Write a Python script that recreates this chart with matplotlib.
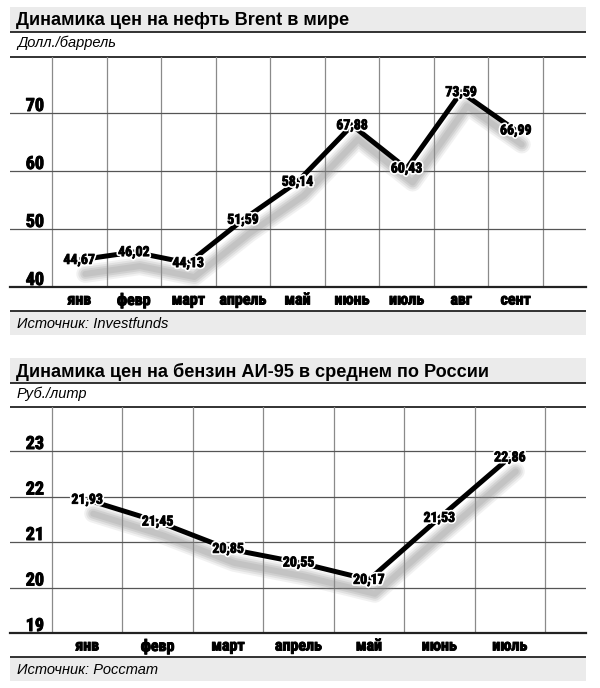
import matplotlib
matplotlib.use("Agg")
import matplotlib.pyplot as plt
import matplotlib.patheffects as pe
from matplotlib.transforms import offset_copy, blended_transform_factory

# Brent
brent_months = ["янв", "февр", "март", "апрель", "май", "июнь", "июль", "авг", "сент"]
brent_values = [44.67, 46.02, 44.13, 51.59, 58.14, 67.88, 60.43, 73.59, 66.99]
brent_ticks = [40, 50, 60, 70]

# АИ-95
fuel_months = ["янв", "февр", "март", "апрель", "май", "июнь", "июль"]
fuel_values = [21.93, 21.45, 20.85, 20.55, 20.17, 21.53, 22.86]
fuel_ticks = [19, 20, 21, 22, 23]

W, H = 600, 688
NARROW = ["Roboto Condensed", "DejaVu Sans"]
SANS = ["Liberation Sans", "DejaVu Sans"]

# a thin black outline makes the condensed face look heavier
HEAVY = [pe.Stroke(linewidth=0.7, foreground="black"), pe.Normal()]
HALO = [pe.Stroke(linewidth=3, foreground="white"),
        pe.Stroke(linewidth=0.6, foreground="black"), pe.Normal()]

fig = plt.figure(figsize=(W / 100, H / 100), dpi=100)
bg = fig.add_axes([0, 0, 1, 1], zorder=0)
bg.set_xlim(0, W)
bg.set_ylim(H, 0)
bg.axis("off")


def hline(y, lw=1.3, color="#222222"):
    bg.plot([10, 586], [y, y], color=color, lw=lw, solid_capstyle="butt")


def draw_chart(title, unit, source, months, values, ticks, top, bottom, band_top, px_per_unit):
    # title, unit and source bands
    bg.add_patch(plt.Rectangle((10, band_top), 576, 25, color="#ebebeb", lw=0))
    bg.text(16, band_top + 13.5, title, fontsize=13.1, fontweight="bold",
            family=SANS, va="center", ha="left")
    hline(band_top + 25)
    bg.text(17, band_top + 36, unit, fontsize=10.5, style="italic",
            family=SANS, va="center", ha="left")
    hline(top)
    bg.add_patch(plt.Rectangle((10, bottom + 24), 576, 24, color="#ebebeb", lw=0))
    hline(bottom + 24)
    bg.text(17, bottom + 37, source, fontsize=10.5, style="italic",
            family=SANS, va="center", ha="left")

    n = len(months)
    cell = (543 - 52) / 9 if n == 9 else (545 - 52) / 7
    ax = fig.add_axes([10 / W, 1 - bottom / H, 576 / W, (bottom - top) / H], zorder=2)
    ax.patch.set_alpha(0)
    ax.axis("off")
    ax.set_xlim(-0.5 - 42 / cell, -0.5 + 534 / cell)
    ax.set_ylim(ticks[0], ticks[0] + (bottom - top) / px_per_unit)

    for i in range(n + 1):
        ax.axvline(i - 0.5, color="#8a8a8a", lw=0.9, zorder=1)
    for t in ticks[1:]:
        ax.axhline(t, color="#555555", lw=0.9, zorder=1)
    ax.axhline(ticks[0], color="#222222", lw=1.6, zorder=1, clip_on=False)

    yx = (bg.transData, ax.transData)
    for t in ticks:
        ax.annotate(str(t), xy=(44, t), xycoords=yx, xytext=(0, 2),
                    textcoords="offset pixels", ha="right", va="baseline",
                    fontsize=13, fontweight="bold", family=NARROW, path_effects=HEAVY)

    xt = blended_transform_factory(ax.transData, bg.transData)
    for i, m in enumerate(months):
        ax.text(i, bottom + 13, m, transform=xt, ha="center", va="center",
                fontsize=11.5, fontweight="bold", family=NARROW, path_effects=HEAVY)

    xs = list(range(n))
    # soft grey shadow under the line
    for lw, a in [(18, 0.12), (14, 0.16), (10, 0.2), (6, 0.2)]:
        tr = offset_copy(ax.transData, fig=fig, x=6, y=-14, units="dots")
        ax.plot(xs, values, color="#8f8f8f", lw=lw * 0.72, alpha=a, transform=tr,
                solid_joinstyle="round", solid_capstyle="round", zorder=2)
    ax.plot(xs, values, color="black", lw=3.6, solid_joinstyle="miter",
            solid_capstyle="butt", zorder=3)

    for x, v in zip(xs, values):
        ax.text(x, v, f"{v:.2f}".replace(".", ","), ha="center", va="center",
                fontsize=10, fontweight="bold", family=NARROW, zorder=4,
                path_effects=HALO)


draw_chart("Динамика цен на нефть Brent в мире", "Долл./баррель", "Источник: Investfunds",
           brent_months, brent_values, brent_ticks, top=57, bottom=287, band_top=7,
           px_per_unit=5.8)
draw_chart("Динамика цен на бензин АИ-95 в среднем по России", "Руб./литр", "Источник: Росстат",
           fuel_months, fuel_values, fuel_ticks, top=407, bottom=633, band_top=358,
           px_per_unit=45.5)

fig.savefig("out.png", dpi=100)
